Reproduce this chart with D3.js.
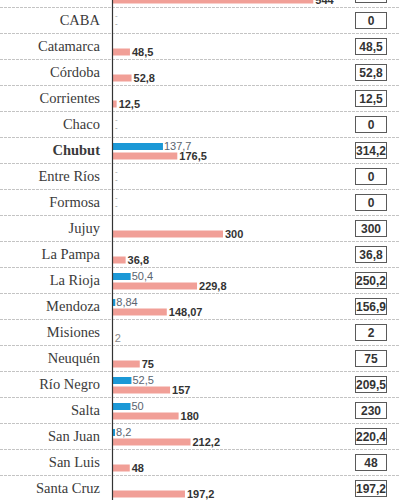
<!DOCTYPE html>
<html>
<head>
<meta charset="utf-8">
<script src="https://cdn.jsdelivr.net/npm/d3@7"></script>
<style>
  body { margin: 0; background: #fff; }
  svg { display: block; }
</style>
</head>
<body>
<svg class="chart" width="400" height="500"></svg>
<script>
// data
const provinces = ["Buenos Aires", "CABA", "Catamarca", "Córdoba", "Corrientes", "Chaco", "Chubut",
    "Entre Ríos", "Formosa", "Jujuy", "La Pampa", "La Rioja", "Mendoza", "Misiones", "Neuquén",
    "Río Negro", "Salta", "San Juan", "San Luis", "Santa Cruz"];
const blueValues = [null, 0, null, null, null, 0, 137.7, 0, 0, null, null, 50.4, 8.84, null, null,
    52.5, 50, 8.2, null, null];
const pinkValues = [544, 0, 48.5, 52.8, 12.5, 0, 176.5, 0, 0, 300, 36.8, 229.8, 148.07, 2, 75,
    157, 180, 212.2, 48, 197.2];
const totals = [544, 0, 48.5, 52.8, 12.5, 0, 314.2, 0, 0, 300, 36.8, 250.2, 156.9, 2, 75,
    209.5, 230, 220.4, 48, 197.2];
const boldProvinces = ["Chubut"];

// config
const axisX = 112;
const blueColor = "#1b98d6";
const pinkColor = "#f19f97";
const labelFont = "'Liberation Serif', serif";
const numFont = "'Liberation Sans Narrow', 'Liberation Sans', sans-serif";

const rows = provinces.map((p, i) => ({
    name: p, blue: blueValues[i], pink: pinkValues[i], total: totals[i]
}));

const fmt = v => String(v).replace(".", ",");

const svg = d3.select("svg.chart");

const y = d3.scaleBand()
    .domain(provinces)
    .range([-19, -19 + 26 * provinces.length]);

const x = d3.scaleLinear()
    .domain([0, 300])
    .range([axisX, 223]);

// row separators
svg.append("g")
    .selectAll("line")
    .data(provinces.slice(1))
    .join("line")
    .attr("x1", 0)
    .attr("x2", 400)
    .attr("y1", d => y(d) + 0.5)
    .attr("y2", d => y(d) + 0.5)
    .attr("stroke", "#c4c4c4")
    .attr("stroke-dasharray", "3,1");

const rowG = svg.append("g")
    .selectAll("g.row")
    .data(rows)
    .join("g")
    .attr("class", "row")
    .attr("transform", d => `translate(0, ${y(d.name)})`);

// province names
rowG.append("text")
    .attr("x", 100)
    .attr("y", 13)
    .attr("dy", "0.35em")
    .attr("text-anchor", "end")
    .attr("font-family", labelFont)
    .attr("font-size", 14.5)
    .attr("font-weight", d => boldProvinces.includes(d.name) ? "bold" : "normal")
    .attr("fill", "#3a3a3a")
    .text(d => d.name);

// blue bars
const blueRows = rowG.filter(d => d.blue !== null);
blueRows.filter(d => d.blue > 0).append("rect")
    .attr("x", axisX)
    .attr("y", 6)
    .attr("width", d => x(d.blue) - axisX)
    .attr("height", 7)
    .attr("fill", blueColor);
blueRows.append("text")
    .attr("x", d => d.blue > 0 ? x(d.blue) + 1 : 115)
    .attr("y", d => d.blue > 0 ? 13 : 11)
    .attr("font-family", numFont)
    .attr("font-size", d => d.blue > 0 ? 11 : 8)
    .attr("fill", d => d.blue > 0 ? "#5a6470" : "#999")
    .text(d => d.blue > 0 ? fmt(d.blue) : "-");

// pink bars
rowG.filter(d => d.pink > 0).append("rect")
    .attr("x", axisX)
    .attr("y", 15.5)
    .attr("width", d => x(d.pink) - axisX)
    .attr("height", 7)
    .attr("fill", pinkColor);
rowG.append("text")
    .attr("x", d => d.pink > 0 ? x(d.pink) + 2 : 115)
    .attr("y", d => d.pink > 0 ? 23 : 19)
    .attr("font-family", numFont)
    .attr("font-size", d => d.pink > 0 ? 11 : 8)
    .attr("font-weight", d => d.pink > 2 ? "bold" : "normal")
    .attr("fill", d => d.pink > 2 ? "#333" : "#888")
    .text(d => d.pink > 0 ? fmt(d.pink) : "-");

// total boxes
rowG.append("rect")
    .attr("x", 355.5)
    .attr("y", 5.5)
    .attr("width", 31)
    .attr("height", 16)
    .attr("fill", "#fff")
    .attr("stroke", "#5a5a5a");
rowG.append("text")
    .attr("x", 371)
    .attr("y", 13.5)
    .attr("dy", "0.35em")
    .attr("text-anchor", "middle")
    .attr("font-family", numFont)
    .attr("font-size", 12)
    .attr("font-weight", "bold")
    .attr("fill", "#333")
    .text(d => fmt(d.total));

// axis line
svg.append("line")
    .attr("x1", axisX + 0.5)
    .attr("x2", axisX + 0.5)
    .attr("y1", 0)
    .attr("y2", 500)
    .attr("stroke", "#333")
    .attr("stroke-width", 1.2);
</script>
</body>
</html>
